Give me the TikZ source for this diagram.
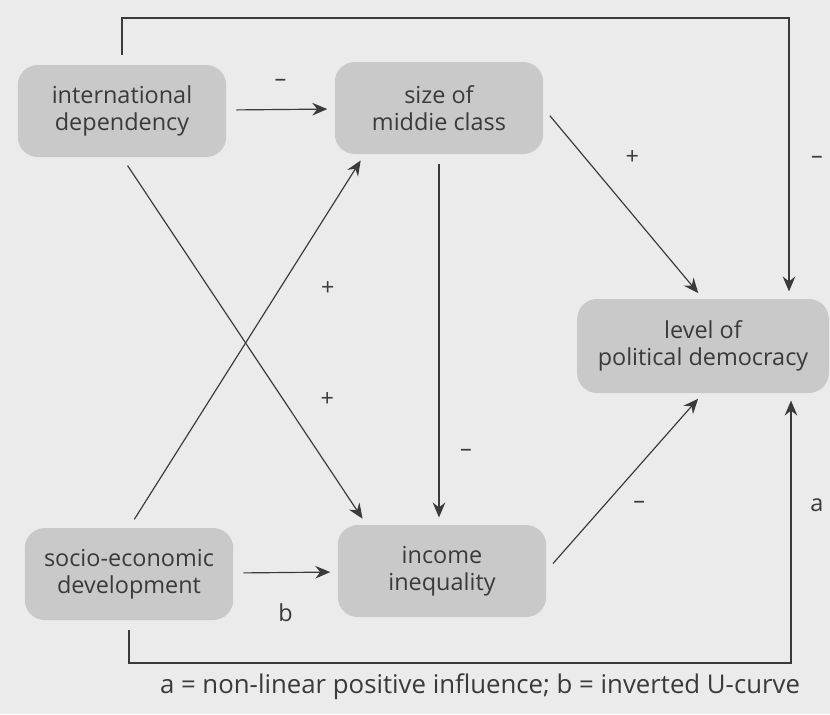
\documentclass[tikz,border=0pt]{standalone}
\usepackage{fontspec}
\setmainfont{Open Sans}
\usetikzlibrary{arrows.meta}
\definecolor{paper}{HTML}{EBEBEB}
\definecolor{boxgray}{HTML}{C9C9C9}
\definecolor{ink}{HTML}{3A3A3A}
\tikzset{
  factor/.style={rounded corners=0.6cm, fill=boxgray, align=center, text=ink,
    minimum width=6.25cm, minimum height=2.76cm, font=\fontsize{20}{23.5}\selectfont},
  link/.style={draw=ink, line width=1pt, -{Stealth[length=0.45cm,width=0.38cm,inset=0.15cm]},
    shorten <=0.3cm, shorten >=0.22cm},
  sign/.style={text=ink, font=\fontsize{20}{23}\selectfont}
}
\begin{document}
\begin{tikzpicture}[x=0.03cm, y=-0.03cm]
    \fill[paper] (0,0) rectangle (830,714);
    \useasboundingbox (0,0) rectangle (830,714);
    \node[factor] at (122, 111) (intl) {international\\dependency};
    \node[factor] at (439, 108) (size) {size of\\middie class};
    \node[factor, minimum width=7.55cm, minimum height=2.82cm] at (703, 346) (level) {level of\\political democracy};
    \node[factor] at (129, 574) (socio) {socio-economic\\development};
    \node[factor] at (442, 571) (income) {income\\inequality};
    \coordinate (topleft) at (122, 18);
    \coordinate (topright) at (789, 18);
    \coordinate (botleft) at (129, 663);
    \coordinate (botright) at (791, 663);
    \draw[link] (intl) -- node[sign, midway, yshift=0.8cm] {–} (size);
    \draw[link] (socio) -- node[sign, midway, yshift=-1.2cm] {b} (income);
    \draw[link] (intl.south) -- node[sign, pos=0.66, xshift=1.32cm] {+} ([xshift=0.87cm]income.north west);
    \draw[link] (socio.north) -- node[sign, pos=0.64, xshift=1.44cm] {+} ([xshift=0.9cm]size.south west);
    \draw[link] (size.south) -- node[sign, pos=0.805, xshift=0.81cm] {–} (size.south |- income.north);
    \draw[link] (size.east) -- node[sign, pos=0.257, xshift=1.44cm] {+} (level.north);
    \draw[link] (income.east) -- node[sign, pos=0.37, xshift=1.05cm] {–} (level.south);
    \draw[link] (intl.north) -- (topleft) -- (topright) -- node[sign, pos=0.505, xshift=0.84cm] {–} (topright |- level.north);
    \draw[link] (socio.south) -- (botleft) -- (botright) -- node[sign, pos=0.585, xshift=0.78cm] {a} (botright |- level.south);
    \node[sign, font=\fontsize{22}{26}\selectfont] at (480, 687) (caption) {a = non-linear positive influence; b = inverted U-curve};
\end{tikzpicture}
\end{document}
